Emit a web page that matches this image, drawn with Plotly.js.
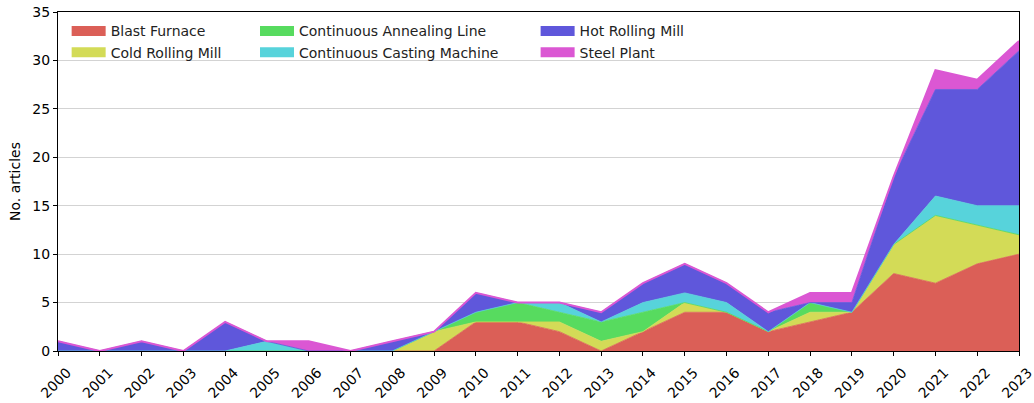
<!DOCTYPE html>
<html>
<head>
<meta charset="utf-8">
<script src="https://cdn.plot.ly/plotly-3.0.1.min.js"></script>
<style>html,body{margin:0;padding:0;background:#fff;}#chart{width:1034px;height:403px;}</style>
</head>
<body>
<div id="chart"></div>
<script>
const years = [2000,2001,2002,2003,2004,2005,2006,2007,2008,2009,2010,2011,2012,2013,2014,2015,2016,2017,2018,2019,2020,2021,2022,2023];
const blastFurnace      = [0,0,0,0,0,0,0,0,0,0,3,3,2,0,2,4,4,2,3,4,8,7,9,10];
const coldRollingMill   = [0,0,0,0,0,0,0,0,0,2,0,0,1,1,0,1,0,0,1,0,3,7,4,2];
const contAnnealingLine = [0,0,0,0,0,0,0,0,0,0,1,2,1,2,2,0,0,0,1,0,0,0,0,0];
const contCastingMachine= [0,0,0,0,0,1,0,0,0,0,0,0,1,0,1,1,1,0,0,0,0,2,2,3];
const hotRollingMill    = [1,0,1,0,3,0,0,0,1,0,2,0,0,1,2,3,2,2,0,1,7,11,12,16];
const steelPlant        = [0,0,0,0,0,0,1,0,0,0,0,0,0,0,0,0,0,0,1,1,0,2,1,1];

const seriesNames = ["Blast Furnace","Cold Rolling Mill","Continuous Annealing Line","Continuous Casting Machine","Hot Rolling Mill","Steel Plant"];
const seriesData = [blastFurnace, coldRollingMill, contAnnealingLine, contCastingMachine, hotRollingMill, steelPlant];
const colors = ["#db5f57","#d3db57","#57db5f","#57d3db","#5f57db","#db57d3"];
const legendIds = ["legend","legend","legend2","legend2","legend3","legend3"];

const areaTraces = seriesNames.map((name, i) => ({
  type: "scatter",
  mode: "lines",
  name: name,
  x: years,
  y: seriesData[i],
  stackgroup: "one",
  line: {color: colors[i], width: i === 5 ? 2 : 0.8},
  fillcolor: colors[i],
  showlegend: false,
  hoverinfo: "x+y+name"
}));

// legend-only entries (swatches)
const legendTraces = seriesNames.map((name, i) => ({
  type: "scatter",
  mode: "lines",
  name: name,
  x: [null],
  y: [null],
  line: {color: colors[i], width: 10},
  legend: legendIds[i],
  showlegend: true,
  hoverinfo: "skip"
}));

const fontFam = "DejaVu Sans, sans-serif";
const legendBase = {
  orientation: "v",
  yanchor: "top",
  xanchor: "left",
  y: 0.99,
  itemwidth: 34,
  bgcolor: "rgba(255,255,255,0)",
  borderwidth: 0,
  font: {family: fontFam, size: 14, color: "#222"},
  traceorder: "normal"
};

const layout = {
  width: 1034,
  height: 403,
  margin: {l: 58, r: 15, t: 12, b: 52},
  paper_bgcolor: "#fff",
  plot_bgcolor: "#fff",
  font: {family: fontFam, size: 14, color: "#000"},
  showlegend: true,
  legend: Object.assign({}, legendBase, {x: 0.009}),
  legend2: Object.assign({}, legendBase, {x: 0.205}),
  legend3: Object.assign({}, legendBase, {x: 0.497}),
  xaxis: {
    range: [2000, 2023],
    tickmode: "array",
    tickvals: years,
    ticktext: years.map(String),
    tickangle: -45,
    ticks: "outside",
    ticklen: 4,
    tickcolor: "#000",
    ticklabelshift: 9,
    ticklabelstandoff: 3,
    ticklabeloverflow: "allow",
    showline: true,
    linecolor: "#000",
    linewidth: 1,
    mirror: true,
    showgrid: false,
    zeroline: false,
    tickfont: {family: fontFam, size: 14, color: "#000"}
  },
  yaxis: {
    range: [0, 35],
    dtick: 5,
    ticks: "outside",
    ticklen: 4,
    tickcolor: "#000",
    showline: true,
    linecolor: "#000",
    linewidth: 1,
    mirror: true,
    showgrid: true,
    gridcolor: "#d3d3d3",
    gridwidth: 1,
    zeroline: false,
    tickfont: {family: fontFam, size: 14, color: "#000"},
    title: {text: "No. articles", font: {family: fontFam, size: 14, color: "#000"}, standoff: 8}
  }
};

Plotly.newPlot("chart", areaTraces.concat(legendTraces), layout, {displayModeBar: false, staticPlot: true});
</script>
</body>
</html>
